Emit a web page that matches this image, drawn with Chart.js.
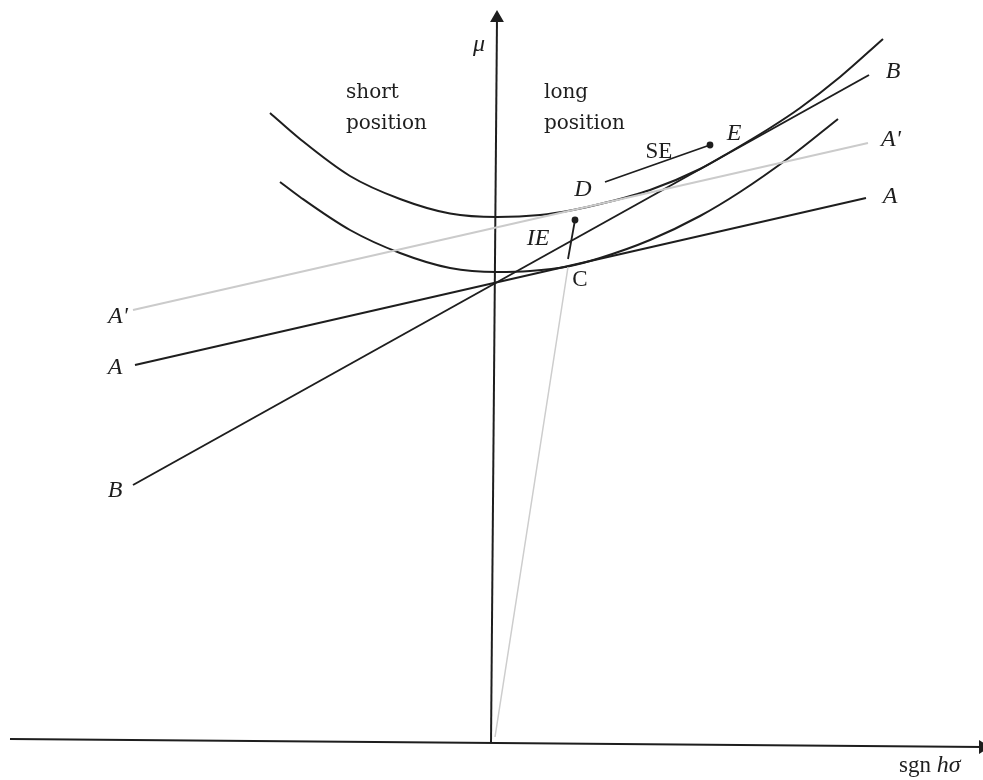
<!DOCTYPE html>
<html>
<head>
<meta charset="utf-8">
<script src="https://cdn.jsdelivr.net/npm/chart.js@4/dist/chart.umd.min.js"></script>
<style>
  html, body { margin: 0; padding: 0; background: #fff; }
  #wrap { width: 983px; height: 780px; }
</style>
</head>
<body>
<div id="wrap"><canvas id="chart" width="983" height="780"></canvas></div>
<script>
// mu against sgn h.sigma: budget lines A, A', B and two indifference curves

// axes (drawn as lines, the scan is a little rotated)
const muAxis = [{x: -0.02, y: -0.02}, {x: 0.04, y: 7.23}];
const sgnAxis = [{x: -4.83, y: 0.02}, {x: 4.90, y: -0.06}];

// budget lines
const lineA = [{x: -3.58, y: 3.76}, {x: 3.73, y: 5.43}];
const lineAprime = [{x: -3.60, y: 4.31}, {x: 3.75, y: 5.98}];
const lineB = [{x: -3.60, y: 2.56}, {x: 3.76, y: 6.66}];

// indifference curves
const upperCurve = [
    {x: -2.23, y: 6.28}, {x: -1.93, y: 6.02}, {x: -1.43, y: 5.65}, {x: -0.93, y: 5.42},
    {x: -0.43, y: 5.275}, {x: 0.04, y: 5.24}, {x: 0.47, y: 5.26}, {x: 0.80, y: 5.31},
    {x: 1.07, y: 5.37}, {x: 1.57, y: 5.51}, {x: 2.07, y: 5.72}, {x: 2.37, y: 5.89},
    {x: 2.77, y: 6.13}, {x: 3.07, y: 6.33}, {x: 3.47, y: 6.64}, {x: 3.90, y: 7.02}
];
const lowerCurve = [
    {x: -2.13, y: 5.59}, {x: -1.93, y: 5.44}, {x: -1.43, y: 5.11}, {x: -0.93, y: 4.88},
    {x: -0.43, y: 4.73}, {x: 0.04, y: 4.69}, {x: 0.37, y: 4.70}, {x: 0.75, y: 4.745},
    {x: 1.07, y: 4.83}, {x: 1.57, y: 5.01}, {x: 2.07, y: 5.25}, {x: 2.47, y: 5.49},
    {x: 2.97, y: 5.84}, {x: 3.45, y: 6.22}
];

// ray from the origin through C, and the two effect arrows
const rayToC = [{x: 0.02, y: 0.04}, {x: 0.75, y: 4.74}];
const incomeEffect = [{x: 0.75, y: 4.82}, {x: 0.82, y: 5.21}];
const substitutionEffect = [{x: 1.12, y: 5.59}, {x: 2.17, y: 5.96}];

// text labels: [text, x, y, kind]
const labelItems = [
    ['μ', -0.14, 6.96, 'ital'],
    ['short', -1.47, 6.48, 'text'],
    ['position', -1.47, 6.17, 'text'],
    ['long', 0.51, 6.48, 'text'],
    ['position', 0.51, 6.17, 'text'],
    ['D', 0.90, 5.51, 'ital'],
    ['E', 2.41, 6.07, 'ital'],
    ['SE', 1.66, 5.89, 'roman'],
    ['IE', 0.45, 5.02, 'ital'],
    ['C', 0.87, 4.61, 'roman'],
    ['B', 4.00, 6.69, 'ital'],
    ["A'", 3.98, 6.01, 'ital'],
    ['A', 3.97, 5.44, 'ital'],
    ["A'", -3.75, 4.24, 'ital'],
    ['A', -3.78, 3.73, 'ital'],
    ['B', -3.78, 2.50, 'ital']
];
const axisTitle = {x: 4.06, y: -0.25};

const ink = '#1e1e1e';
const fonts = {
    ital: 'italic 24px "Liberation Serif", serif',
    roman: '23px "Liberation Serif", serif',
    text: '20px "DejaVu Serif", serif'
};

function plain(data, color, width) {
    return {
        data: data,
        showLine: true,
        borderColor: color,
        borderWidth: width,
        pointRadius: 0,
        cubicInterpolationMode: 'monotone',
        clip: false
    };
}

function arrowed(data, color, width, style, radius, rotation) {
    const ds = plain(data, color, width);
    ds.pointRadius = [0, radius];
    ds.pointStyle = style;
    ds.rotation = rotation;
    ds.pointBackgroundColor = color;
    ds.pointBorderColor = color;
    return ds;
}

const labelPlugin = {
    id: 'labels',
    afterDatasetsDraw(chart) {
        const ctx = chart.ctx;
        const xs = chart.scales.x;
        const ys = chart.scales.y;
        ctx.save();
        ctx.fillStyle = ink;
        ctx.textBaseline = 'middle';
        labelItems.forEach(([text, x, y, kind]) => {
            ctx.font = fonts[kind];
            ctx.textAlign = kind === 'text' ? 'left' : 'center';
            ctx.fillText(text, xs.getPixelForValue(x), ys.getPixelForValue(y));
        });
        // "sgn hσ" mixes upright and italic
        const px = xs.getPixelForValue(axisTitle.x);
        const py = ys.getPixelForValue(axisTitle.y);
        ctx.textAlign = 'left';
        ctx.font = fonts.roman;
        const w = ctx.measureText('sgn ').width;
        ctx.fillText('sgn ', px, py);
        ctx.font = fonts.ital;
        ctx.fillText('hσ', px + w, py);
        ctx.restore();
    }
};

new Chart(document.getElementById('chart'), {
    type: 'scatter',
    data: {
        datasets: [
            plain(rayToC, '#cdcdcd', 1.5),
            plain(lineAprime, '#cbcbcb', 2),
            arrowed(muAxis, ink, 2, 'triangle', 6, 0),
            arrowed(sgnAxis, ink, 2, 'triangle', 6, 90),
            plain(lineA, ink, 2),
            plain(lineB, ink, 2),
            plain(upperCurve, ink, 2),
            plain(lowerCurve, ink, 2),
            arrowed(incomeEffect, ink, 1.8, 'circle', 2.5, 0),
            arrowed(substitutionEffect, ink, 1.8, 'circle', 2.5, 0)
        ]
    },
    options: {
        responsive: false,
        devicePixelRatio: 1,
        animation: false,
        layout: { padding: 0, autoPadding: false },
        plugins: {
            legend: { display: false },
            tooltip: { enabled: false }
        },
        scales: {
            x: { type: 'linear', min: -4.93, max: 4.90, display: false },
            y: { type: 'linear', min: -0.39, max: 7.41, display: false }
        }
    },
    plugins: [labelPlugin]
});
</script>
</body>
</html>
